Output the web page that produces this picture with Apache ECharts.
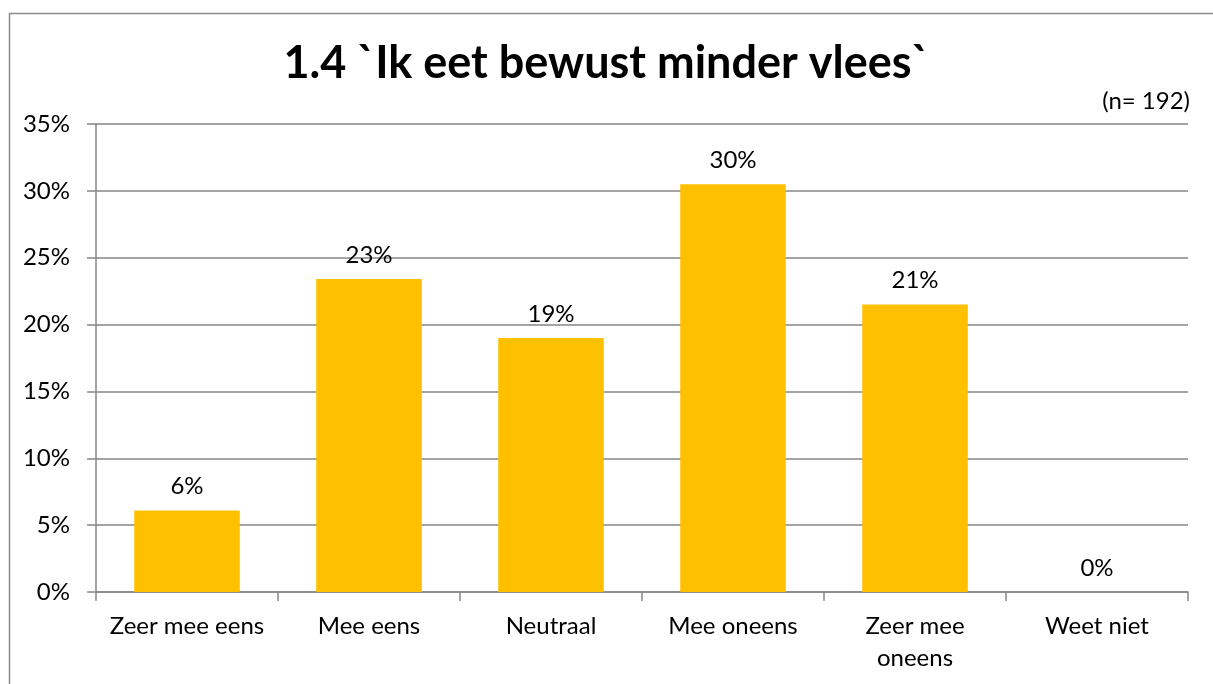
<!DOCTYPE html>
<html>
<head>
<meta charset="utf-8">
<script src="https://cdn.jsdelivr.net/npm/echarts@6/dist/echarts.min.js"></script>
<style>
html,body{margin:0;padding:0;background:#fff;}
#chart{width:1213px;height:684px;}
</style>
</head>
<body>
<div id="chart"></div>
<script>
const titleText = "1.4 `Ik eet bewust minder vlees`";
const subText = "(n= 192)";
const categories = ["Zeer mee eens", "Mee eens", "Neutraal", "Mee oneens", "Zeer mee\noneens", "Weet niet"];
const values = [6.1, 23.4, 19.0, 30.5, 21.5, 0];
const labels = ["6%", "23%", "19%", "30%", "21%", "0%"];
const yTicks = [0, 5, 10, 15, 20, 25, 30, 35];

const FONT = "Lato, 'Open Sans', sans-serif";
const chart = echarts.init(document.getElementById('chart'), null, {renderer: 'canvas'});
chart.setOption({
  animation: false,
  backgroundColor: '#ffffff',
  graphic: [{
    type: 'rect', left: 7, top: 11,
    shape: {width: 1240, height: 700},
    style: {fill: 'none', stroke: '#8c8c8c', lineWidth: 1.5},
    silent: true
  }],
  title: [{
    text: titleText, left: 'center', top: 36,
    textStyle: {fontFamily: FONT, fontWeight: 'bold', fontSize: 45, color: '#000'}
  }, {
    text: subText, right: 18, top: 84,
    textStyle: {fontFamily: FONT, fontWeight: 'normal', fontSize: 24, color: '#000'}
  }],
  grid: {left: 96, right: 25, top: 124, bottom: 92, containLabel: false},
  xAxis: {
    type: 'category', data: categories,
    axisLine: {lineStyle: {color: '#868686', width: 1.5}},
    axisTick: {show: true, length: 9, alignWithLabel: false, lineStyle: {color: '#868686', width: 1.5}},
    axisLabel: {fontFamily: FONT, fontSize: 24, color: '#000', margin: 18, lineHeight: 32, interval: 0}
  },
  yAxis: {
    type: 'value', min: 0, max: 35, interval: 5,
    axisLine: {show: true, lineStyle: {color: '#868686', width: 1.5}},
    axisTick: {show: true, length: 9, lineStyle: {color: '#868686', width: 1.5}},
    axisLabel: {fontFamily: FONT, fontSize: 24, color: '#000', margin: 26, formatter: v => v + '%'},
    splitLine: {show: true, lineStyle: {color: '#868686', width: 1.5}}
  },
  series: [{
    type: 'bar', data: values, barWidth: '58%',
    itemStyle: {color: '#FFC000'},
    label: {
      show: true, position: 'top', distance: 12,
      fontFamily: FONT, fontSize: 24, color: '#000',
      formatter: p => labels[p.dataIndex]
    }
  }]
});
</script>
</body>
</html>
